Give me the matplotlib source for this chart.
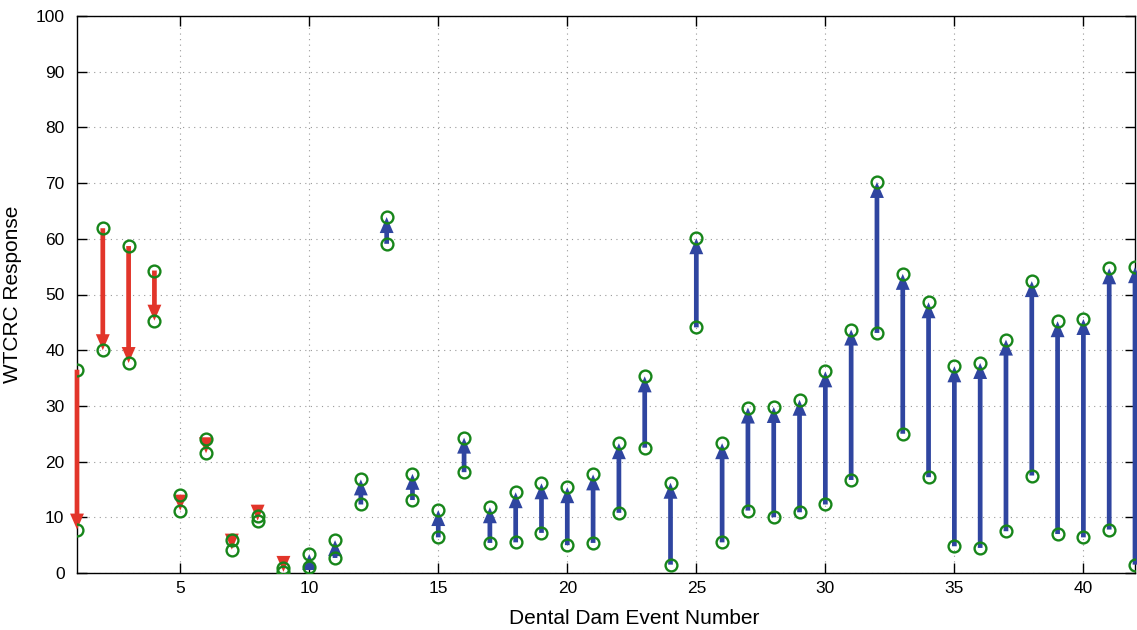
import matplotlib
matplotlib.use('Agg')
import matplotlib.pyplot as plt

plt.rcParams['font.family'] = ['Liberation Sans', 'DejaVu Sans']

# Data: WTCRC response before and after each dental dam event
events = list(range(1, 43))
before = [36.5, 61.9, 58.7, 54.3, 14.0, 24.0, 5.9, 10.2, 0.9,
          1.1, 2.7, 12.3, 59.1, 13.1, 6.4, 18.1, 5.4, 5.5, 7.2, 5.0, 5.4,
          10.8, 22.5, 1.5, 44.1, 5.5, 11.2, 10.0, 10.9, 12.3, 16.7, 43.1,
          25.0, 17.2, 4.8, 4.5, 7.5, 17.5, 7.0, 6.4, 7.8, 1.5]
after = [7.8, 40.0, 37.7, 45.3, 11.2, 21.5, 4.2, 9.4, 0.2,
         3.4, 5.9, 16.8, 63.9, 17.8, 11.3, 24.3, 11.8, 14.5, 16.1, 15.4, 17.7,
         23.3, 35.3, 16.2, 60.1, 23.3, 29.7, 29.8, 31.1, 36.2, 43.7, 70.2,
         53.7, 48.6, 37.1, 37.7, 41.9, 52.4, 45.2, 45.6, 54.7, 54.9]

x_ticks = [5, 10, 15, 20, 25, 30, 35, 40]
y_ticks = list(range(0, 101, 10))

red = '#e2352a'
blue = '#2f45a0'
green = '#17861a'

fig = plt.figure(figsize=(11.37, 6.30), dpi=100)
ax = fig.add_axes([77 / 1137, 57 / 630, 1058 / 1137, 557 / 630])

for x, b, a in zip(events, before, after):
    color = red if a < b else blue
    ax.annotate('', xy=(x, a), xytext=(x, b),
                arrowprops=dict(arrowstyle='simple,head_length=11.5,head_width=10,tail_width=3.4',
                                mutation_scale=1, color=color, lw=0,
                                shrinkA=0, shrinkB=0),
                zorder=3, annotation_clip=False)

ax.plot(events, before, 'o', mfc='none', mec=green, ms=8.5, mew=1.7, zorder=4)
ax.plot(events, after, 'o', mfc='none', mec=green, ms=8.5, mew=1.7, zorder=4)

ax.set_xlim(1, 42)
ax.set_ylim(0, 100)
ax.set_xticks(x_ticks)
ax.set_yticks(y_ticks)
ax.grid(True, linestyle=(0, (1, 4)), color='#999999', linewidth=0.8)
ax.tick_params(direction='in', length=7, width=1, top=True, right=True,
               labelsize=12.5, colors='black')
ax.tick_params(axis='y', pad=9)
ax.tick_params(axis='x', pad=6)
for s in ax.spines.values():
    s.set_linewidth(1)

ax.set_xlabel('Dental Dam Event Number', fontsize=15)
ax.xaxis.set_label_coords(0.527, -0.065)
ax.set_ylabel('WTCRC Response', fontsize=15, labelpad=10)

fig.savefig('out.png', dpi=100)
